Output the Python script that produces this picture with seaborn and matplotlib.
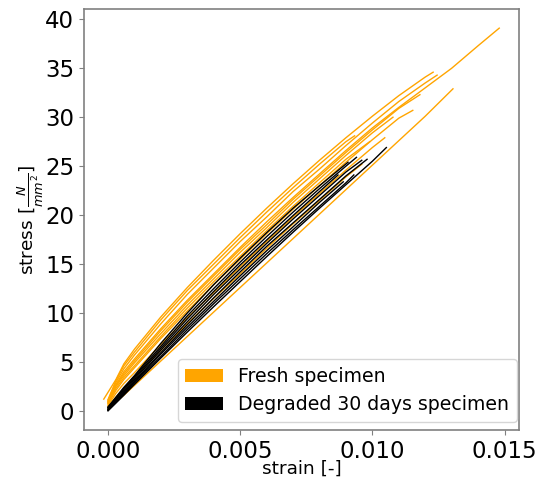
import matplotlib
matplotlib.use("Agg")
import matplotlib.pyplot as plt
from matplotlib.patches import Patch
import pandas as pd
import seaborn as sns

# strain grid shared by all curves (each curve uses the first n points, then its own end point)
strain_grid = [0.0, 0.0003, 0.0006, 0.001, 0.002, 0.003, 0.004, 0.005,
               0.006, 0.007, 0.008, 0.009, 0.010, 0.011, 0.012, 0.013, 0.014]

# fresh specimens: stress [N/mm^2] on the grid
fresh_1 = [1.2, 3.2, 4.8, 6.3, 9.6, 12.6, 15.4, 18.1, 20.7, 23.2, 25.6, 27.9, 30.1, 32.2, 34.1]
fresh_2 = [1.05, 2.9, 4.3, 5.7, 8.9, 11.9, 14.6, 17.3, 19.8, 22.4, 24.7, 27.1, 29.4, 31.6, 33.5]
fresh_3 = [0.9, 2.6, 3.8, 5.1, 8.2, 11.1, 13.8, 16.5, 19.0, 21.6, 24.0, 26.4, 28.7, 30.9]
fresh_4 = [0.95, 2.7, 4.0, 5.3, 8.4, 11.3, 14.0, 16.7, 19.3, 21.8, 24.2, 26.6, 28.9, 31.0, 33.0, 35.0, 37.3]
fresh_5 = [0.7, 2.1, 3.2, 4.4, 7.4, 10.2, 12.9, 15.5, 18.1, 20.6, 23.0, 25.4, 27.7, 29.9]
fresh_6 = [0.85, 2.5, 3.6, 4.9, 7.9, 10.8, 13.5, 16.2, 18.7, 21.3, 23.7, 26.1, 28.4]
fresh_7 = [0.55, 1.8, 2.8, 3.9, 6.8, 9.5, 12.1, 14.7, 17.3, 19.8, 22.2, 24.6, 26.9]
fresh_8 = [1.15, 3.1, 4.6, 6.0, 9.3, 12.3, 15.0, 17.7, 20.3, 22.8, 25.2, 27.5]
fresh_9 = [0.75, 2.3, 3.4, 4.6, 7.6, 10.5, 13.2, 15.8, 18.4, 20.9, 23.3, 25.7]
fresh_10 = [0.4, 1.4, 2.3, 3.4, 6.2, 8.9, 11.5, 14.0, 16.6, 19.1, 21.5, 23.9]
fresh_11 = [0.2, 0.9, 1.6, 2.6, 5.1, 7.6, 10.1, 12.6, 15.1, 17.6, 20.1, 22.6, 25.1, 27.6, 30.1]
fresh_start_strain = [-0.00016, 0, 0, 0, 0, 0, 0, 0, 0, 0, 0]
fresh_end_strain = [0.0123, 0.01245, 0.0118, 0.0148, 0.01153, 0.01078, 0.01047, 0.00933, 0.0099, 0.0096, 0.01305]
fresh_end_stress = [34.6, 34.3, 32.3, 39.1, 30.7, 30.0, 27.9, 28.1, 27.5, 25.2, 32.9]

# degraded 30 days specimens
degr_1 = [0.4, 1.4, 2.4, 3.6, 6.9, 10.0, 12.9, 15.6, 18.2, 20.7, 23.0]
degr_2 = [0.35, 1.3, 2.3, 3.5, 6.6, 9.7, 12.5, 15.2, 17.8, 20.3, 22.7, 25.0]
degr_3 = [0.3, 1.2, 2.15, 3.35, 6.4, 9.4, 12.2, 14.9, 17.45, 19.95, 22.4]
degr_4 = [0.2, 1.1, 2.0, 3.2, 6.2, 9.1, 11.9, 14.5, 17.1, 19.6, 22.0, 24.4]
degr_5 = [0.15, 1.0, 1.9, 3.05, 5.95, 8.8, 11.55, 14.2, 16.8, 19.2, 21.6, 24.0]
degr_6 = [0.1, 0.95, 1.8, 2.95, 5.8, 8.55, 11.2, 13.8, 16.35, 18.8, 21.3]
degr_7 = [0.05, 0.85, 1.7, 2.85, 5.55, 8.3, 10.95, 13.5, 16.05, 18.5, 20.9, 23.3]
degr_8 = [0.0, 0.8, 1.6, 2.7, 5.4, 8.05, 10.65, 13.2, 15.75, 18.25, 20.7, 23.1, 25.5]
degr_end_strain = [0.00908, 0.0094, 0.0087, 0.0096, 0.0098, 0.0089, 0.0093, 0.01053]
degr_end_stress = [25.4, 25.9, 24.1, 25.6, 25.7, 23.4, 24.1, 26.9]

fresh_curves = [fresh_1, fresh_2, fresh_3, fresh_4, fresh_5, fresh_6,
                fresh_7, fresh_8, fresh_9, fresh_10, fresh_11]
degr_curves = [degr_1, degr_2, degr_3, degr_4, degr_5, degr_6, degr_7, degr_8]

FRESH_LABEL = "Fresh specimen"
DEGR_LABEL = "Degraded 30 days specimen"
COLORS = {FRESH_LABEL: "orange", DEGR_LABEL: "black"}


def to_frame(curves, end_x, end_y, group, start_x=None):
    rows = []
    for i, stress in enumerate(curves):
        xs = list(strain_grid[:len(stress)])
        if start_x is not None and start_x[i] != 0:
            xs[0] = start_x[i]
        xs.append(end_x[i])
        ys = list(stress) + [end_y[i]]
        for x, y in zip(xs, ys):
            rows.append({"strain": x, "stress": y, "specimen": f"{group}_{i}", "group": group})
    return pd.DataFrame(rows)


df = pd.concat([
    to_frame(fresh_curves, fresh_end_strain, fresh_end_stress, FRESH_LABEL, fresh_start_strain),
    to_frame(degr_curves, degr_end_strain, degr_end_stress, DEGR_LABEL),
], ignore_index=True)

fig, ax = plt.subplots(figsize=(5.42, 4.86), dpi=100)
fig.subplots_adjust(left=84 / 542, right=519 / 542, top=1 - 9 / 486, bottom=1 - 430 / 486)

sns.lineplot(data=df, x="strain", y="stress", hue="group", units="specimen",
             estimator=None, sort=False, palette=COLORS, lw=1.0, legend=False, ax=ax)

for side in ax.spines.values():
    side.set_color("#808080")
    side.set_linewidth(1.2)
ax.tick_params(colors="#808080", labelcolor="black", labelsize=16.5)
ax.set_xlabel("strain [-]", fontsize=13.3, labelpad=-2)
ax.set_ylabel(r"stress $[\frac{N}{mm^2}]$", fontsize=13.3, labelpad=-1)

handles = [Patch(facecolor=COLORS[FRESH_LABEL], label=FRESH_LABEL),
           Patch(facecolor=COLORS[DEGR_LABEL], label=DEGR_LABEL)]
ax.legend(handles=handles, loc="lower right", fontsize=13.6,
          bbox_to_anchor=(0.995, 0.019), borderaxespad=0)

fig.savefig("out.png", dpi=100)
